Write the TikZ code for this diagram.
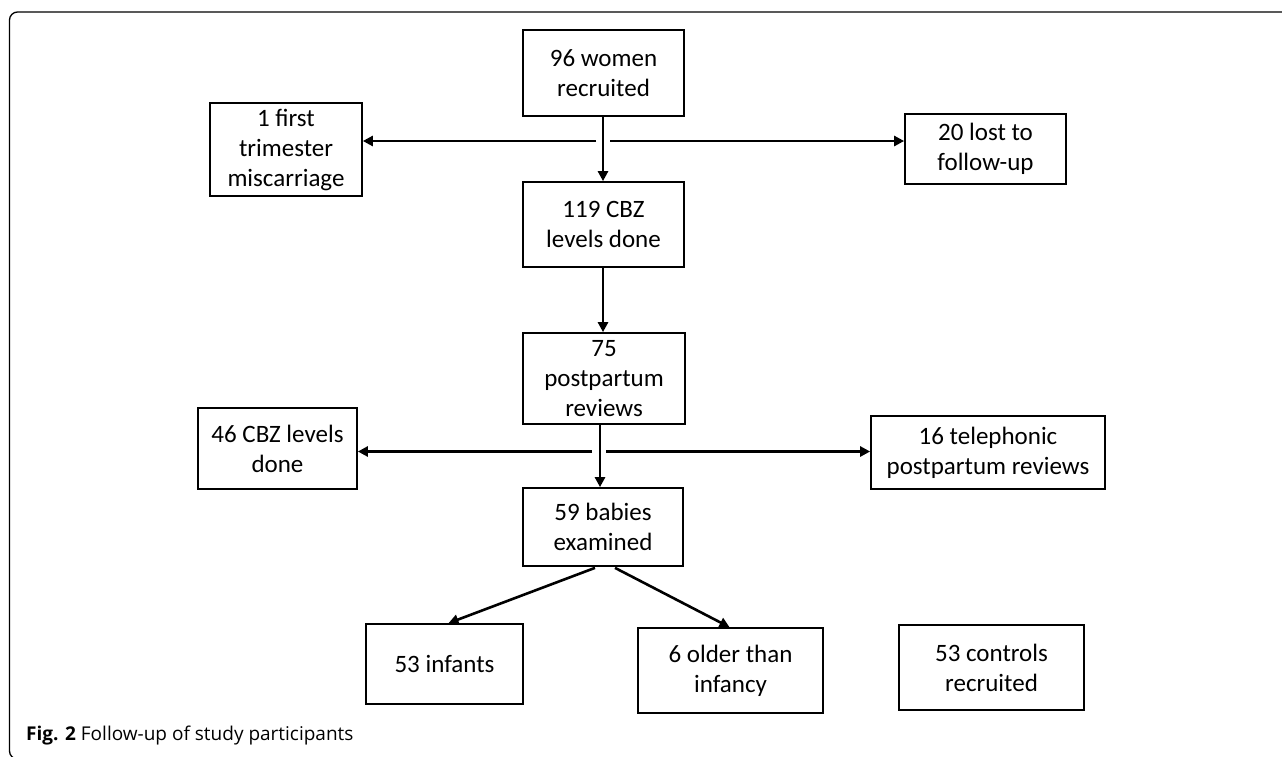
\documentclass[tikz,border=0pt]{standalone}
\usepackage{fontspec}
\setmainfont{Carlito}
\newfontfamily\capfont{Open Sans}
\usetikzlibrary{arrows.meta}
\tikzset{
  box/.style={draw, line width=1.7pt, inner sep=0pt, align=center,
    font=\fontsize{25}{30}\selectfont},
  arr/.style={line width=2.6pt, -{Triangle[length=10pt,width=10pt]}},
  frame/.style={line width=1.3pt, rounded corners=8pt}
}
\begin{document}
\begin{tikzpicture}[x=1pt,y=-1pt]
\useasboundingbox (0,0) rectangle (1282,756);
\begin{scope}
\clip (0,0) rectangle (1282,756);
\draw[frame] (9.5,12) rectangle (1300,759);
\end{scope}

\node[box, minimum width=161pt, minimum height=86pt] (women) at (603.5,73) {96 women\\recruited};
\node[box, minimum width=152pt, minimum height=93pt] (misc) at (286,149.5) {1 first\\trimester\\miscarriage};
\node[box, minimum width=161pt, minimum height=70pt] (lost) at (985.5,149) {20 lost to\\follow-up};
\node[box, minimum width=161pt, minimum height=85pt] (cbz119) at (603.5,224.5) {119 CBZ\\levels done};
\node[box, minimum width=162pt, minimum height=91pt] (pp75) at (604,378.5) {75\\postpartum\\reviews};
\node[box, minimum width=159pt, minimum height=81pt] (cbz46) at (277.5,448.5) {46 CBZ levels\\done};
\node[box, minimum width=234pt, minimum height=73pt] (tele) at (988,452.5) {16 telephonic\\postpartum reviews};
\node[box, minimum width=160pt, minimum height=78pt] (babies) at (603,527) {59 babies\\examined};
\node[box, minimum width=157pt, minimum height=80pt] (infants) at (444.5,664) {53 infants};
\node[box, minimum width=185pt, minimum height=85pt] (older) at (730.5,670.5) {6 older than\\infancy};
\node[box, minimum width=185pt, minimum height=85pt] (controls) at (991.5,667.5) {53 controls\\recruited};

\coordinate (splitA) at (603,141);
\coordinate (splitB) at (600,451.5);

\draw[arr] (women.south -| splitA) -- (cbz119.north -| splitA);
\draw[arr] ([xshift=-7pt]splitA) -- (splitA -| misc.east);
\draw[arr] ([xshift=7pt]splitA) -- (splitA -| lost.west);
\draw[arr] (cbz119.south -| splitA) -- (pp75.north -| splitA);
\draw[arr] (pp75.south -| splitB) -- (babies.north -| splitB);
\draw[arr] ([xshift=-8pt]splitB) -- (splitB -| cbz46.east);
\draw[arr] ([xshift=6pt]splitB) -- (splitB -| tele.west);
\draw[arr] ([xshift=-8pt,yshift=-1pt]babies.south) -- ([xshift=4pt]infants.north);
\draw[arr] ([xshift=12pt,yshift=-1pt]babies.south) -- ([xshift=-1pt]older.north);

\node[anchor=base west, inner sep=0pt, font=\capfont\fontsize{19}{23}\selectfont] (caption) at (26,740) {\textbf{Fig. 2} Follow-up of study participants};
\end{tikzpicture}
\end{document}
